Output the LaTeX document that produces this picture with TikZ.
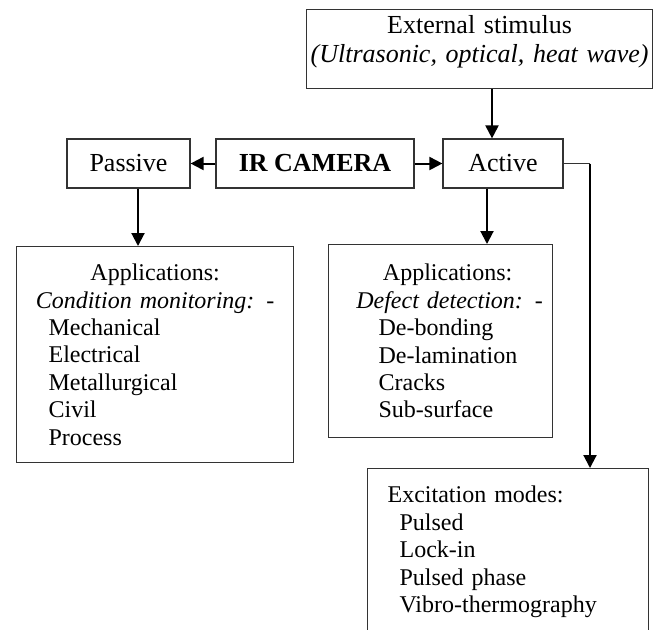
\documentclass[tikz,border=0pt]{standalone}
\usepackage{fontspec}
\setmainfont{Liberation Serif}
\usepackage{tikz}
\usetikzlibrary{arrows.meta,calc,positioning}
\definecolor{BoxEdge}{HTML}{333333}
\definecolor{FlowInk}{HTML}{000000}
\setlength{\parindent}{0pt}

\begin{document}
\begin{tikzpicture}[
    x=0.5pt,y=-0.5pt,
    head/.style={draw=BoxEdge,line width=0.6pt,inner sep=0pt,align=center,font=\fontsize{13}{14.5}\selectfont},
    panel/.style={draw=BoxEdge,line width=0.6pt,inner xsep=0pt,inner ysep=0pt,align=left,anchor=north west,font=\fontsize{12}{13.7}\selectfont},
    flow/.style={draw=FlowInk,line width=1pt,-{Triangle[length=6.5pt,width=6.5pt]}}
  ]
    \useasboundingbox (0,0) rectangle (657,629);
    \clip (0,0) rectangle (657,629);
    % top row
    \node[head,anchor=north west,text width=173pt,inner ysep=3pt] (stim) at (306,9)
      {External stimulus\\\textit{(Ultrasonic, optical, heat wave)}\rule[-10pt]{0pt}{10pt}};
    \node[head,minimum width=61.5pt,minimum height=24.5pt] (pas) at (128.5,163.5) {Passive};
    \node[head,minimum width=99pt,minimum height=24.5pt,font=\fontsize{13}{14.5}\selectfont\bfseries] (ir) at (315,163.5) {IR CAMERA};
    \node[head,minimum width=60pt,minimum height=24.5pt] (act) at (503,163.5) {Active};
    % application boxes
    \node[panel,text width=138.5pt,minimum height=108pt] (lapp) at (16,246)
      {{\centering Applications:\par\textit{Condition monitoring:} -\par}
       \hspace*{16pt}Mechanical\par
       \hspace*{16pt}Electrical\par
       \hspace*{16pt}Metallurgical\par
       \hspace*{16pt}Civil\par
       \hspace*{16pt}Process};
    \node[panel,text width=112pt,minimum height=96.5pt] (rapp) at (328,244)
      {{\centering\hspace*{7pt}Applications:\par\hspace*{9pt}\textit{Defect detection:} -\par}
       \hspace*{25pt}De-bonding\par
       \hspace*{25pt}De-lamination\par
       \hspace*{25pt}Cracks\par
       \hspace*{25pt}Sub-surface};
    \node[panel,text width=140.5pt,inner ysep=8.8pt] (exc) at (367,468)
      {\hspace*{10pt}Excitation modes:\par
       \hspace*{16pt}Pulsed\par
       \hspace*{16pt}Lock-in\par
       \hspace*{16pt}Pulsed phase\par
       \hspace*{16pt}Vibro-thermography\rule[-40pt]{0pt}{40pt}};
    % connectors
    \coordinate (stimin) at (492,0);
    \coordinate (pasdown) at (138,0);
    \coordinate (actdown) at (487,0);
    \coordinate (turn) at (590,163.5);
    \draw[flow] (stim.south -| stimin) -- (act.north -| stimin);
    \draw[flow] (ir.west) -- (pas.east);
    \draw[flow] (ir.east) -- (act.west);
    \draw[flow] (pas.south -| pasdown) -- (lapp.north -| pasdown);
    \draw[flow] (act.south -| actdown) -- (rapp.north -| actdown);
    \draw[draw=BoxEdge,line width=0.6pt] (act.east) -- (turn);
    \draw[flow] (turn) -- (exc.north -| turn);
  \end{tikzpicture}
\end{document}
